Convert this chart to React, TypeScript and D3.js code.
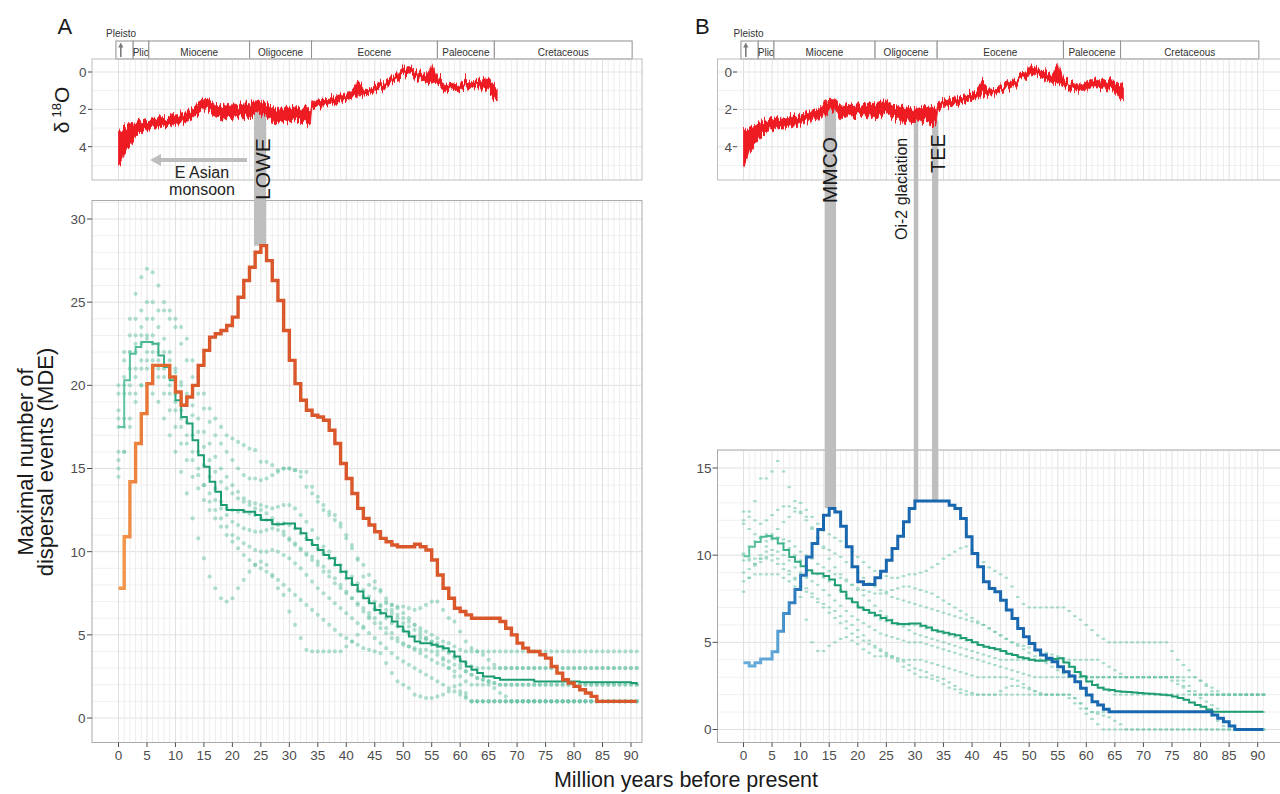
import React from "react";
import * as d3 from "d3";

const FONT = "'Liberation Sans', Arial, Helvetica, sans-serif";
const INK = "#4D4D4D";

// ---------- tick labels / axis values ----------
const ageTicks = [0, 5, 10, 15, 20, 25, 30, 35, 40, 45, 50, 55, 60, 65, 70, 75, 80, 85, 90];
const mdeTicksA = [0, 5, 10, 15, 20, 25, 30];
const mdeTicksB = [0, 5, 10, 15];
const d18Ticks = [0, 2, 4];
const d18Grid = [0, 1, 2, 3, 4, 5];

// ---------- geologic time scale (Ma) ----------
const epochNames = ["", "Plio", "Miocene", "Oligocene", "Eocene", "Paleocene", "Cretaceous"];
const epochBounds = [-0.45, 2.58, 5.33, 23.03, 33.9, 56, 66, 90.2];

// ---------- delta 18O envelope ----------
const d18Age = [0, 0.5, 1, 2, 3, 4, 5, 6, 7, 8, 9, 10, 11, 12, 13, 14, 15, 16, 17, 18, 19, 20, 21, 22, 23, 24, 25,
  26, 27, 28, 29, 30, 31, 32, 33, 33.7, 34, 35, 36, 37, 38, 39, 40, 41, 42, 43, 44, 45, 46, 47, 48, 49, 50, 51,
  52, 53, 54, 55, 56, 57, 58, 59, 60, 61, 62, 63, 64, 65, 66, 66.5];
const d18Lo = [3.0, 3.2, 3.0, 2.9, 2.7, 2.6, 2.55, 2.5, 2.45, 2.45, 2.4, 2.3, 2.25, 2.15, 2.0, 1.6, 1.45, 1.5, 1.75,
  1.8, 1.75, 1.7, 1.75, 1.65, 1.7, 1.55, 1.55, 1.7, 1.85, 1.95, 1.9, 1.95, 1.85, 1.9, 1.85, 2.1, 1.6, 1.5, 1.45,
  1.4, 1.3, 1.2, 1.1, 1.0, 0.5, 0.9, 0.95, 0.8, 0.6, 0.45, 0.3, 0.05, -0.25, -0.3, -0.1, 0.0, 0.1, -0.4, 0.3, 0.5,
  0.65, 0.75, 0.6, 0.4, 0.45, 0.5, 0.35, 0.4, 0.6, 0.8];
const d18Hi = [5.0, 4.8, 4.3, 3.9, 3.5, 3.2, 3.1, 3.0, 3.0, 2.95, 2.9, 2.8, 2.75, 2.65, 2.5, 2.2, 2.0, 2.0, 2.4, 2.5,
  2.4, 2.35, 2.4, 2.4, 2.5, 2.3, 2.2, 2.4, 2.6, 2.7, 2.6, 2.7, 2.6, 2.7, 2.8, 2.9, 2.0, 1.85, 1.8, 1.75, 1.7, 1.6,
  1.5, 1.4, 1.3, 1.25, 1.2, 1.1, 0.95, 0.8, 0.6, 0.4, 0.2, 0.1, 0.3, 0.4, 0.5, 0.5, 0.7, 0.9, 1.0, 1.05, 1.0, 0.8,
  0.8, 0.9, 0.9, 1.0, 1.5, 1.5];

// ---------- panel A: MDE per 1-Myr bin, ages 0..91 ----------
const mdeOrangeA = [
  7.8, 10.9, 14.2, 16.5, 18.3, 20.1, 21.2, 21.2, 21.2, 20.5,
  19.6, 18.8, 19.3, 20.0, 21.2, 22.1, 22.9, 23.1, 23.3, 23.6,
  24.1, 25.3, 26.3, 27.1, 28.0, 28.4, 27.5, 26.3, 25.1, 23.3,
  21.5, 20.1, 19.1, 18.5, 18.2, 18.1, 17.9, 17.3, 16.5, 15.3,
  14.4, 13.5, 12.6, 12.0, 11.6, 11.2, 10.8, 10.6, 10.4, 10.3,
  10.3, 10.3, 10.45, 10.3, 10.1, 9.5, 8.6, 7.8, 7.2, 6.6,
  6.4, 6.2, 6.0, 6.0, 6.0, 6.0, 6.0, 5.8, 5.4, 5.0,
  4.5, 4.2, 4.0, 4.0, 3.8, 3.6, 3.1, 2.7, 2.3, 2.1,
  1.9, 1.7, 1.5, 1.3, 1.0, 1.0, 1.0, 1.0, 1.0, 1.0, 1.0, 1.0];
const mdeMedianA = [
  17.5, 20.3, 21.9, 22.3, 22.6, 22.6, 22.5, 21.8, 21.1, 20.3,
  19.1, 18.1, 17.7, 16.7, 15.8, 15.1, 14.2, 13.6, 12.8, 12.5,
  12.5, 12.5, 12.4, 12.4, 12.2, 11.9, 11.9, 11.65, 11.65, 11.7,
  11.7, 11.4, 11.1, 10.7, 10.4, 10.1, 9.8, 9.6, 9.2, 8.8,
  8.4, 8.0, 7.6, 7.2, 6.9, 6.5, 6.3, 6.1, 5.8, 5.5,
  5.2, 4.9, 4.6, 4.5, 4.5, 4.4, 4.3, 4.2, 4.0, 3.7,
  3.4, 3.1, 2.9, 2.7, 2.5, 2.5, 2.4, 2.3, 2.3, 2.3,
  2.3, 2.3, 2.3, 2.2, 2.2, 2.2, 2.2, 2.2, 2.2, 2.2,
  2.2, 2.15, 2.15, 2.15, 2.15, 2.15, 2.15, 2.15, 2.15, 2.15, 2.1, 2.0];

// replicate runs (dots), panel A
const repA1 = [
  19.5, 22, 24, 25.5, 26.5, 27, 26.8, 26, 25, 24.5,
  24, 23.5, 22.8, 21.5, 20.5, 19.5, 18.6, 18, 17.5, 17,
  16.8, 16.6, 16.4, 16.2, 16.1, 15.4, 15.4, 15.2, 14.9, 15,
  15, 14.9, 14.8, 14.8, 13.9, 13.3, 12.8, 12.4, 12.2, 11.7,
  11, 10.4, 9.5, 8.5, 8, 7.8, 7.7, 7.2, 6.8, 6.7,
  6.7, 6.6, 6.5, 6.6, 6.8, 7, 7, 6.5, 6, 5.8,
  5.2, 4.6, 4.2, 4, 4, 4, 4, 4, 4, 4,
  4, 4, 4, 4, 4, 4, 4, 4, 4, 4,
  4, 4, 4, 4, 4, 4, 4, 4, 4, 4, 4, 4];
const repA2 = [
  20, 21.5, 23, 24, 24.5, 25, 25, 24.5, 24.5, 24,
  23.5, 22.5, 21.5, 20.5, 19.5, 18.6, 17.8, 17, 16.5, 16,
  15.5, 15, 14.6, 14.4, 14.4, 14.3, 14.4, 14.6, 14.8, 15,
  15, 14.9, 14.5, 13.9, 13.5, 13, 12.5, 12.2, 11.9, 11.5,
  10.8, 10.2, 9.6, 9.2, 8.6, 8.2, 7.6, 7, 6.5, 6.2,
  6, 5.8, 5.6, 5.4, 5.2, 5, 4.8, 4.6, 4.5, 4.3,
  4.1, 4, 4, 4, 3.8, 3.5, 3.2, 3, 3, 3,
  3, 3, 3, 3, 3, 3, 3, 3, 3, 3,
  3, 3, 3, 3, 3, 3, 3, 3, 3, 3, 3, 3];
const repA3 = [
  18.5, 20, 22, 23, 23.5, 24, 24, 23.5, 22.8, 22,
  21, 20.2, 19.5, 18.8, 18, 17.2, 16.5, 15.7, 15, 14.5,
  14, 13.6, 13.2, 13, 12.9, 12.8, 12.7, 12.6, 12.7, 12.8,
  12.8, 12.6, 12.2, 11.8, 11.3, 10.8, 10.3, 10, 9.6, 9.2,
  8.8, 8.5, 8.1, 7.7, 7.3, 7, 6.7, 6.5, 6.3, 6,
  5.7, 5.5, 5.3, 5, 4.8, 4.6, 4.3, 4.1, 3.9, 3.7,
  3.5, 3.3, 3.1, 3, 3, 3, 3, 3, 3, 3,
  3, 3, 3, 3, 3, 3, 3, 3, 3, 3,
  3, 3, 3, 3, 3, 3, 3, 3, 3, 3, 3, 3];
const repA4 = [
  17.5, 20.5, 22, 22.5, 23, 23, 22.5, 22, 21.2, 20.5,
  19.5, 18.5, 17.8, 17, 16, 15.2, 14.5, 13.8, 13, 12.6,
  12.5, 12.4, 12.4, 12.3, 12.2, 12, 11.9, 11.8, 11.7, 11.7,
  11.6, 11.4, 11.1, 10.8, 10.5, 10.2, 9.9, 9.6, 9.2, 8.8,
  8.4, 8.1, 7.7, 7.3, 7, 6.6, 6.3, 6, 5.7, 5.5,
  5.3, 5.1, 4.9, 4.8, 4.7, 4.6, 4.5, 4.3, 4, 3.6,
  3.2, 2.8, 2.6, 2.4, 2.3, 2.2, 2.1, 2, 2, 2,
  2, 2, 2, 2, 2, 2, 2, 2, 2, 2,
  2, 2, 2, 2, 2, 2, 2, 2, 2, 2, 2, 2];
const repA5 = [
  15.5, 17.5, 19.5, 20.5, 21, 21.5, 21.5, 21, 20.5, 19.5,
  18.5, 17.5, 16.5, 15.5, 14.6, 14, 13.5, 13.1, 12.6, 12.2,
  11.8, 11.6, 11.4, 11.3, 11.2, 11.2, 11.3, 11.4, 11.3, 11,
  10.7, 10.4, 10.1, 9.8, 9.5, 9.2, 8.8, 8.5, 8.1, 7.8,
  7.5, 7.2, 6.9, 6.6, 6.3, 6, 5.7, 5.4, 5.1, 4.8,
  4.5, 4.3, 4.1, 3.9, 3.7, 3.5, 3.3, 3.2, 3, 2.8,
  2.5, 2.2, 2, 2, 2, 2, 1.8, 1.5, 1.3, 1,
  1, 1, 1, 1, 1, 1, 1, 1, 1, 1,
  1, 1, 1, 1, 1, 1, 1, 1, 1, 1, 1, 1];
const repA6 = [
  15, 16, 18, 19.5, 20, 20, 19.5, 19, 18, 17,
  16, 14.8, 13.5, 12, 10.8, 9.6, 8.5, 7.8, 7.2, 7,
  7.2, 7.8, 8.3, 8.8, 9.2, 9.4, 9.2, 8.5, 7.8, 7.4,
  6.4, 5.6, 4.8, 4.1, 4, 4, 4, 4, 4, 4,
  4.3, 4.6, 5, 5.5, 6.1, 6.5, 6.8, 6.9, 6.8, 6.6,
  6.3, 6, 5.6, 5.2, 4.8, 4.4, 4, 3.5, 3, 2.5,
  2, 1.5, 1, 1, 1, 1, 1, 1, 1, 1,
  1, 1, 1, 1, 1, 1, 1, 1, 1, 1,
  1, 1, 1, 1, 1, 1, 1, 1, 1, 1, 1, 1];
const repA7 = [
  14.5, 16, 17.5, 19, 20, 21, 21, 20.5, 19.5, 18.5,
  17.5, 16.5, 15.5, 14.5, 13.8, 13.1, 12.5, 12, 11.5, 11,
  10.6, 10.2, 9.8, 9.5, 9.2, 9, 8.8, 8.6, 8.3, 8,
  7.7, 7.4, 7.1, 6.8, 6.5, 6.2, 5.9, 5.6, 5.3, 5,
  4.8, 4.6, 4.4, 4.2, 4.1, 4, 3.9, 3.3, 2.7, 2.2,
  2, 1.8, 1.4, 1.3, 1.2, 1.2, 1.3, 1.4, 1.6, 1.9,
  1.6, 1.3, 1, 1, 1, 1, 1, 1, 1, 1,
  1, 1, 1, 1, 1, 1, 1, 1, 1, 1,
  1, 1, 1, 1, 1, 1, 1, 1, 1, 1, 1, 1];
const repA8 = [
  18, 19.5, 21, 22, 22.5, 22.8, 23, 22.5, 22, 21.5,
  20.8, 20, 19.2, 18.2, 17.2, 16.3, 15.5, 14.8, 14.2, 13.8,
  13.5, 13.2, 13, 12.8, 12.6, 12.5, 12.3, 12, 11.6, 11.2,
  10.8, 10.5, 10.2, 9.9, 9.7, 9.4, 9.1, 8.8, 8.4, 8,
  7.6, 7.2, 6.8, 6.4, 6, 5.7, 5.4, 5.1, 4.8, 4.6,
  4.4, 4.3, 4.2, 4.1, 4.1, 4, 3.8, 3.6, 3.4, 3.2,
  3, 2.8, 2.6, 2.4, 2.3, 2.2, 2.1, 2, 2, 2,
  2, 2, 2, 2, 2, 2, 2, 2, 2, 2,
  2, 2, 2, 2, 2, 2, 2, 2, 2, 2, 2, 2];
const repA9 = [
  16, 18, 20, 21, 21.5, 22, 22, 21.5, 21, 20,
  19, 18, 17, 16, 15, 14, 13, 12.5, 12, 11.5,
  11, 10.8, 10.5, 10.3, 10.1, 10, 10, 10.1, 10, 9.8,
  9.6, 9.3, 9, 8.6, 8.2, 7.8, 7.5, 7.2, 6.9, 6.6,
  6.3, 6, 5.7, 5.4, 5.1, 4.8, 4.5, 4.2, 3.9, 3.6,
  3.4, 3.2, 3, 2.8, 2.6, 2.4, 2.2, 2, 1.8, 1.6,
  1.4, 1.2, 1, 1, 1, 1, 1, 1, 1, 1,
  1, 1, 1, 1, 1, 1, 1, 1, 1, 1,
  1, 1, 1, 1, 1, 1, 1, 1, 1, 1, 1, 1];
const repsA = [repA1, repA2, repA3, repA4, repA5, repA6, repA7, repA8, repA9];

// ---------- panel B ----------
const mdeBlueB = [
  3.83, 3.64, 3.83, 4.04, 4.04, 4.46, 5.64, 6.66, 7.27, 8.03,
  8.85, 9.9, 10.67, 11.47, 12.29, 12.68, 12.48, 11.66, 10.48, 9.33,
  8.47, 8.32, 8.32, 8.7, 9.08, 9.71, 10.38, 11.09, 11.91, 12.68,
  13.11, 13.11, 13.11, 13.11, 13.11, 13.11, 12.87, 12.68, 12.1, 11.05,
  10.1, 9.33, 8.47, 8.09, 7.9, 7.42, 6.85, 6.37, 5.8, 5.32,
  4.94, 4.56, 4.27, 4.08, 3.89, 3.6, 3.31, 3.07, 2.74, 2.36,
  1.98, 1.59, 1.4, 1.16, 1.02, 1.02, 1.02, 1.02, 1.02, 1.02,
  1.02, 1.02, 1.02, 1.02, 1.02, 1.02, 1.02, 1.02, 1.02, 1.02,
  1.02, 1.02, 0.83, 0.64, 0.45, 0.2, 0, 0, 0, 0, 0, 0];
const mdeMedianB = [
  9.94, 10.48, 10.76, 11.05, 11.1, 10.96, 10.67, 10.29, 9.9, 9.62,
  9.37, 9.14, 8.95, 8.95, 8.8, 8.61, 8.28, 7.9, 7.52, 7.3,
  7.0, 6.85, 6.7, 6.56, 6.4, 6.27, 6.1, 6.05, 6.05, 6.08,
  6.08, 5.95, 5.85, 5.7, 5.62, 5.55, 5.47, 5.4, 5.25, 5.13,
  5.0, 4.85, 4.75, 4.68, 4.6, 4.5, 4.35, 4.27, 4.15, 4.08,
  4.0, 3.94, 3.94, 4.0, 4.05, 4.08, 3.85, 3.6, 3.3, 3.05,
  2.75, 2.55, 2.4, 2.3, 2.26, 2.2, 2.17, 2.15, 2.12, 2.1,
  2.07, 2.05, 2.02, 2.0, 1.97, 1.9, 1.8, 1.7, 1.55, 1.4,
  1.3, 1.15, 1.02, 1.02, 1.02, 1.02, 1.02, 1.02, 1.02, 1.02, 1.02, 1.02];

const repB1 = [
  12.5, 12.5, 13.1, 14.4, 14.4, 14.8, 15.4, 14.8, 13.9, 13.1,
  13, 12.6, 12.2, 11.8, 11.4, 11.2, 11, 10.8, 10.5, 10.2,
  9.9, 9.6, 9.3, 9.1, 8.9, 8.8, 8.7, 8.7, 8.8, 8.9,
  8.9, 9, 9.1, 9.3, 9.5, 9.8, 10, 10.2, 10.4, 10.5,
  10.3, 10, 9.6, 9.3, 9.1, 8.9, 8.7, 8.2, 7.6, 7.2,
  7, 7, 7, 7, 7, 7, 7, 6.8, 6.5, 6.3,
  6, 5.7, 5.4, 5.2, 5, 5, 5, 5, 5, 5,
  5, 5, 5, 5, 5, 4.5, 4, 3.7, 3.4, 3,
  2.8, 2.6, 2.4, 2.2, 2, 2, 2, 2, 2, 2, 2, 2];
const repB2 = [
  12, 12.2, 12, 11.8, 12, 12.3, 12.6, 12.8, 12.8, 12.7,
  12.4, 12, 11.5, 11, 10.5, 10.3, 10.1, 9.9, 9.6, 9.3,
  9, 8.7, 8.4, 8.2, 8, 7.8, 7.6, 7.5, 7.4, 7.3,
  7.2, 7.1, 7, 6.9, 6.8, 6.7, 6.6, 6.5, 6.4, 6.3,
  6.2, 6.1, 6, 5.8, 5.6, 5.4, 5.2, 5, 4.9, 4.8,
  4.7, 4.6, 4.5, 4.4, 4.3, 4.2, 4.1, 4, 4, 4,
  4, 4, 4, 3.8, 3.6, 3.4, 3.2, 3, 3, 3,
  3, 3, 3, 3, 3, 2.8, 2.6, 2.4, 2.2, 2,
  2, 2, 2, 2, 2, 2, 2, 2, 2, 2, 2, 2];
const repB3 = [
  10, 10.5, 10.8, 11, 11.2, 11.2, 11, 10.7, 10.4, 10,
  9.7, 9.4, 9.1, 8.9, 8.7, 8.5, 8.3, 8, 7.7, 7.4,
  7.1, 6.9, 6.7, 6.5, 6.3, 6.2, 6.1, 6, 6, 6,
  6, 5.9, 5.8, 5.7, 5.6, 5.5, 5.4, 5.3, 5.2, 5.1,
  5, 4.9, 4.8, 4.7, 4.6, 4.5, 4.4, 4.3, 4.2, 4.1,
  4, 4, 4, 4, 4, 4, 3.9, 3.6, 3.3, 3,
  3, 3, 3, 3, 3, 3, 3, 3, 3, 3,
  3, 3, 3, 3, 3, 3, 3, 2.8, 2.5, 2.2,
  2, 2, 2, 2, 2, 2, 2, 2, 2, 2, 2, 2];
const repB4 = [
  9.7, 9.8, 9.8, 10, 10.2, 10.3, 10.2, 10, 9.7, 9.3,
  9, 8.7, 8.5, 8.3, 8, 7.7, 7.4, 7.1, 6.8, 6.5,
  6.3, 6.1, 5.9, 5.7, 5.5, 5.4, 5.3, 5.2, 5.1, 5,
  5, 5, 4.9, 4.8, 4.7, 4.6, 4.5, 4.4, 4.3, 4.2,
  4.1, 4, 3.9, 3.8, 3.7, 3.6, 3.5, 3.4, 3.3, 3.2,
  3.1, 3, 3, 3, 3, 3, 3, 3, 3, 3,
  3, 2.8, 2.6, 2.4, 2.2, 2, 2, 2, 2, 2,
  2, 2, 2, 2, 2, 2, 2, 2, 2, 2,
  1.8, 1.6, 1.4, 1.2, 1, 1, 1, 1, 1, 1, 1, 1];
const repB5 = [
  9, 9.2, 9.5, 9.8, 9.9, 10, 9.8, 9.5, 9.1, 8.7,
  8.4, 8.1, 7.8, 7.5, 7.2, 7, 6.8, 6.5, 6.2, 6,
  5.7, 5.4, 5.1, 4.8, 4.6, 4.4, 4.2, 3.9, 3.6, 3.4,
  3.2, 3, 3, 2.9, 2.8, 2.6, 2.4, 2.3, 2.1, 2,
  2, 2, 2, 2, 2, 2, 2, 2, 2, 2,
  2, 2, 2, 2, 2, 2, 2, 1.8, 1.5, 1.2,
  0.9, 0.6, 0.3, 0, 0, 0, 0, 0, 0, 0,
  0, 0, 0, 0, 0, 0, 0, 0, 0, 0,
  0, 0, 0, 0, 0, 0, 0, 0, 0, 0, 0, 0];
const repB6 = [
  8.5, 8.7, 8.9, 8.9, 8.9, 8.9, 8.9, 8.7, 8.5, 8.2,
  7.6, 6.3, 5, 4.5, 4.5, 4.8, 5, 5.2, 5.3, 5.1,
  4.9, 4.6, 4.4, 4.2, 4.2, 4.2, 4.1, 4, 3.9, 3.7,
  3.5, 3.4, 3.3, 3.1, 3, 2.9, 2.7, 2.5, 2.3, 2.2,
  2.1, 2, 2, 2, 2, 2.2, 2.4, 2.5, 2.5, 2.4,
  2.3, 2.2, 2.1, 2, 2, 2, 2, 2, 1.8, 1.5,
  1.2, 1, 0.9, 0.8, 0.7, 0.5, 0.3, 0, 0, 0,
  0, 0, 0, 0, 0, 0, 0, 0, 0, 0,
  0, 0, 0, 0, 0, 0, 0, 0, 0, 0, 0, 0];
const repB7 = [
  11.8, 11.5, 11.2, 11, 10.8, 10.9, 11, 10.9, 10.8, 10.5,
  10.2, 10, 9.8, 9.5, 9.3, 9.1, 8.9, 8.7, 8.5, 8.3,
  8.1, 8, 7.9, 7.8, 7.8, 7.9, 8, 8.1, 8.2, 8.2,
  8.1, 8, 7.9, 7.8, 7.6, 7.4, 7.2, 7, 6.8, 6.6,
  6.4, 6.2, 6, 5.8, 5.6, 5.4, 5.2, 5, 4.8, 4.6,
  4.4, 4.2, 4, 3.8, 3.6, 3.4, 3.2, 3, 3, 3,
  3, 3, 3, 3, 3, 3, 3, 3, 3, 3,
  3, 3, 3, 3, 3, 3, 2.8, 2.5, 2.2, 2,
  2, 2, 2, 2, 2, 2, 2, 2, 2, 2, 2, 2];
const repB8 = [
  10.1, 9.7, 9.4, 9.6, 9.8, 9.7, 9.5, 9.2, 8.9, 8.6,
  8.2, 7.9, 7.6, 7.3, 7, 6.7, 6.4, 6.1, 5.8, 5.5,
  5.3, 5.1, 4.9, 4.7, 4.5, 4.3, 4.2, 4.1, 4, 4,
  4, 4, 3.9, 3.8, 3.7, 3.6, 3.5, 3.4, 3.3, 3.2,
  3.1, 3, 3, 3, 3, 3, 3, 2.9, 2.8, 2.6,
  2.4, 2.2, 2, 2, 2, 2, 2, 2, 1.8, 1.5,
  1.2, 1, 1, 1, 1, 1, 1, 1, 1, 1,
  1, 1, 1, 1, 1, 1, 1, 1, 1, 1,
  1, 1, 0.8, 0.5, 0.2, 0, 0, 0, 0, 0, 0, 0];
const repB9 = [
  7.9, 8.7, 9.5, 9.8, 10.5, 11, 11.5, 11.9, 12.2, 12.5,
  12.5, 12.2, 11.6, 11, 10.4, 9.8, 9.3, 8.9, 8.6, 8.3,
  8, 7.7, 7.4, 7.1, 6.8, 6.5, 6.3, 6.1, 5.9, 5.7,
  5.5, 5.4, 5.3, 5.2, 5.1, 5, 4.9, 4.8, 4.7, 4.6,
  4.5, 4.4, 4.3, 4.2, 4.1, 4, 4, 4, 4, 4,
  4, 4, 4, 4, 4, 4, 4, 3.8, 3.5, 3.2,
  3, 3, 3, 3, 3, 3, 3, 3, 3, 3,
  3, 3, 3, 3, 3, 3, 3, 3, 3, 3,
  2.8, 2.5, 2.2, 2, 2, 2, 2, 2, 2, 2, 2, 2];
const repsB = [repB1, repB2, repB3, repB4, repB5, repB6, repB7, repB8, repB9];

// events: start/end age, d18O at bar top, MDE at bar bottom
const eventsA = [{ label: "LOWE", a0: 23.8, a1: 25.9, d18: 2.0, mde: 28.4 }];
const eventsB = [
  { label: "MMCO", a0: 14.2, a1: 16.2, d18: 1.8, mde: 12.7 },
  { label: "Oi-2 glaciation", a0: 29.8, a1: 30.6, d18: 2.4, mde: 13.1 },
  { label: "TEE", a0: 33.0, a1: 34.1, d18: 2.6, mde: 13.1 },
];

// ---------- scales ----------
const xA = d3.scaleLinear().domain([0, 90]).range([118.5, 631]);
const xB = d3.scaleLinear().domain([0, 90]).range([743.5, 1257.7]);
const yA = d3.scaleLinear().domain([0, 30]).range([718, 219]);
const yB = d3.scaleLinear().domain([0, 15]).range([729.5, 468]);
const yD = d3.scaleLinear().domain([0, 4]).range([72, 146.7]);

const gridAges = d3.range(0, 92);

function TimeScale({ x, pleistoX }: any) {
  const ax = x(0.4);
  return (
    <g fontSize={10} fill="#333">
      {epochNames.map((name, i) => {
        const x0 = x(epochBounds[i]);
        const x1 = x(epochBounds[i + 1]);
        return (
          <g key={i}>
            <rect x={x0} y={41} width={x1 - x0} height={18} fill="#fff" stroke="#8F8F8F" />
            {name && (
              <text x={(x0 + x1) / 2} y={56} textAnchor="middle">
                {name}
              </text>
            )}
          </g>
        );
      })}
      <text x={pleistoX} y={37}>Pleisto</text>
      <line x1={ax} x2={ax} y1={57} y2={46} stroke="#7A7A7A" strokeWidth={1.6} />
      <path d={`M${ax - 2.6},47.5 L${ax},42.5 L${ax + 2.6},47.5 Z`} fill="#7A7A7A" />
    </g>
  );
}

function TopPanel({ x, left, right, labelX, tickX0, tickX1 }: any) {
  const top = 59;
  const bottom = 180;
  return (
    <g>
      {d18Grid.map((v) => (
        <line key={v} x1={left} x2={right} y1={yD(v)} y2={yD(v)} stroke={v % 2 === 0 ? "#E3E3E3" : "#F0F0F0"} />
      ))}
      {gridAges.map((a) => (
        <line key={a} x1={x(a)} x2={x(a)} y1={top} y2={bottom} stroke={a % 5 === 0 ? "#E0E0E0" : "#EDEDED"} />
      ))}
      <rect x={left} y={top} width={right - left} height={bottom - top} fill="none" stroke="#BDBDBD" />
      {d18Ticks.map((t) => (
        <g key={t}>
          <line x1={tickX0} x2={tickX1} y1={yD(t)} y2={yD(t)} stroke={INK} />
          <text x={labelX} y={yD(t)} dy="0.36em" textAnchor="end" fontSize={13.5} fill={INK}>
            {t}
          </text>
        </g>
      ))}
    </g>
  );
}

function MainPanel({ x, y, left, right, top, bottom, yTicks, gridMax, labelX }: any) {
  const hLines = d3.range(0, gridMax + 1);
  return (
    <g>
      {hLines.map((v) => (
        <line key={v} x1={left} x2={right} y1={y(v)} y2={y(v)} stroke={v % 5 === 0 ? "#E0E0E0" : "#F0F0F0"} />
      ))}
      {gridAges.map((a) => (
        <line key={a} x1={x(a)} x2={x(a)} y1={top} y2={bottom} stroke={a % 5 === 0 ? "#E0E0E0" : "#EDEDED"} />
      ))}
      <rect x={left} y={top} width={right - left} height={bottom - top} fill="none" stroke="#AAAAAA" />
      {yTicks.map((t: number) => (
        <g key={t}>
          <line x1={left - 5} x2={left} y1={y(t)} y2={y(t)} stroke={INK} />
          <text x={labelX} y={y(t)} dy="0.36em" textAnchor="end" fontSize={13.5} fill={INK}>
            {t}
          </text>
        </g>
      ))}
      {ageTicks.map((t) => (
        <g key={t}>
          <line x1={x(t)} x2={x(t)} y1={bottom} y2={bottom + 4.5} stroke={INK} />
          <text x={x(t)} y={760} textAnchor="middle" fontSize={13.5} fill={INK}>
            {t}
          </text>
        </g>
      ))}
    </g>
  );
}

function Grad({ id, x, stops }: any) {
  return (
    <linearGradient id={id} gradientUnits="userSpaceOnUse" x1={x(0)} x2={x(14)} y1={0} y2={0}>
      {stops.map((s: any, i: number) => (
        <stop key={i} offset={s[0]} stopColor={s[1]} />
      ))}
    </linearGradient>
  );
}

export default function App() {
  const step = (x: any, y: any) =>
    d3.line<number>().x((_, i) => x(i)).y((d) => y(d)).curve(d3.curveStepAfter);
  const d18Area = (x: any) =>
    d3
      .area<number>()
      .x((_, i) => x(d18Age[i]))
      .y0((_, i) => yD(d18Hi[i]))
      .y1((_, i) => yD(d18Lo[i]));

  return (
    <svg
      width={1280}
      height={794}
      style={{ position: "absolute", left: 0, top: 0, display: "block", background: "#fff" }}
      fontFamily={FONT}
    >
      <defs>
        <Grad id="gOrange" x={xA} stops={[[0, "#F49B4E"], [0.45, "#E46C30"], [1, "#D9572A"]]} />
        <Grad id="gGreenA" x={xA} stops={[[0, "#62C6A6"], [0.5, "#3FB18B"], [1, "#1B9B72"]]} />
        <Grad id="gBlue" x={xB} stops={[[0, "#6AAEDB"], [0.4, "#5CA2D4"], [0.7, "#2473B9"], [1, "#1967AE"]]} />
        <Grad id="gGreenB" x={xB} stops={[[0, "#62C6A6"], [0.5, "#3FB18B"], [1, "#1E9C72"]]} />
        {/* jagged edge for the isotope trace */}
        <filter id="jag" filterUnits="userSpaceOnUse" x={90} y={40} width={1200} height={150}>
          <feTurbulence type="fractalNoise" baseFrequency="0.55 0.03" numOctaves={2} seed={4} result="n" />
          <feColorMatrix
            in="n"
            type="matrix"
            values="0 0 0 0 0.5  0 1 0 0 0  0 0 0 0 0  0 0 0 0 1"
            result="m"
          />
          <feDisplacementMap in="SourceGraphic" in2="m" scale={16} xChannelSelector="R" yChannelSelector="G" />
        </filter>
      </defs>
      <rect width={1280} height={794} fill="#fff" />

      {/* panel letters */}
      <text x={57.5} y={33.5} fontSize={22} fill="#1A1A1A">A</text>
      <text x={695} y={33.5} fontSize={22} fill="#1A1A1A">B</text>

      <TimeScale x={xA} pleistoX={106} />
      <TimeScale x={xB} pleistoX={733.5} />

      <TopPanel x={xA} left={92} right={642} labelX={86.5} tickX0={88} tickX1={92} />
      <TopPanel x={xB} left={717.5} right={1282} labelX={732} tickX0={733} tickX1={737} />

      <MainPanel x={xA} y={yA} left={92} right={642} top={200.5} bottom={742.5} yTicks={mdeTicksA} gridMax={31} labelX={85.5} />
      <MainPanel x={xB} y={yB} left={717.5} right={1282} top={450} bottom={742.5} yTicks={mdeTicksB} gridMax={16} labelX={711.5} />

      {/* replicate dots */}
      <g fill="#66C2A5" fillOpacity={0.5}>
        {repsA.flatMap((s, si) => s.map((v, i) => <circle key={`a${si}-${i}`} cx={xA(i)} cy={yA(v)} r={2.1} />))}
      </g>
      <g fill="#66C2A5" fillOpacity={0.55}>
        {repsB.flatMap((s, si) =>
          s.map((v, i) => <rect key={`b${si}-${i}`} x={xB(i) - 1.8} y={yB(v) - 1} width={3.6} height={2} />)
        )}
      </g>

      {/* event bars */}
      {eventsA.map((e) => (
        <rect key={e.label} x={xA(e.a0)} width={xA(e.a1) - xA(e.a0)} y={yD(e.d18)} height={yA(e.mde) - yD(e.d18)} fill="#BEBEBE" />
      ))}
      {eventsB.map((e) => (
        <rect key={e.label} x={xB(e.a0)} width={xB(e.a1) - xB(e.a0)} y={yD(e.d18)} height={yB(e.mde) - yD(e.d18)} fill="#BEBEBE" />
      ))}

      {/* delta 18O curves */}
      <g filter="url(#jag)">
        <path d={d18Area(xA)(d18Age) || ""} fill="#EE1C24" stroke="#EE1C24" strokeWidth={0.8} strokeLinejoin="round" />
        <path d={d18Area(xB)(d18Age) || ""} fill="#EE1C24" stroke="#EE1C24" strokeWidth={0.8} strokeLinejoin="round" />
      </g>

      {/* MDE lines */}
      <path d={step(xA, yA)(mdeMedianA) || ""} fill="none" stroke="url(#gGreenA)" strokeWidth={2} />
      <path d={step(xA, yA)(mdeOrangeA) || ""} fill="none" stroke="url(#gOrange)" strokeWidth={3.4} />
      <path d={step(xB, yB)(mdeMedianB) || ""} fill="none" stroke="url(#gGreenB)" strokeWidth={2} />
      <path d={step(xB, yB)(mdeBlueB) || ""} fill="none" stroke="url(#gBlue)" strokeWidth={3} />

      {/* annotations */}
      <line x1={247} x2={158} y1={160} y2={160} stroke="#BDBDBD" strokeWidth={4} />
      <path d="M150,160 L161,154 L161,166 Z" fill="#BDBDBD" />
      <text x={202} y={178} textAnchor="middle" fontSize={16} fill="#222">E Asian</text>
      <text x={202} y={195} textAnchor="middle" fontSize={16} fill="#222">monsoon</text>

      <text transform="translate(269.5,200) rotate(-90)" fontSize={21} fill="#1A1A1A">LOWE</text>
      <text transform="translate(837.3,203.3) rotate(-90)" fontSize={21} fill="#1A1A1A">MMCO</text>
      <text transform="translate(906.5,240) rotate(-90)" fontSize={16} fill="#1A1A1A">Oi-2 glaciation</text>
      <text transform="translate(945,173) rotate(-90)" fontSize={20} fill="#1A1A1A">TEE</text>

      {/* axis titles */}
      <text transform="translate(69,110) rotate(-90)" textAnchor="middle" fontSize={21} fill="#1A1A1A">
        δ<tspan fontSize={13} dy={-8} dx={4}>18</tspan>
        <tspan dy={8}>O</tspan>
      </text>
      <text transform="translate(33,462) rotate(-90)" textAnchor="middle" fontSize={22} fill="#1A1A1A">
        Maximal number of
      </text>
      <text transform="translate(52.5,462) rotate(-90)" textAnchor="middle" fontSize={22} fill="#1A1A1A">
        dispersal events (MDE)
      </text>
      <text x={686} y={787} textAnchor="middle" fontSize={21.5} fill="#1A1A1A">
        Million years before present
      </text>
    </svg>
  );
}
